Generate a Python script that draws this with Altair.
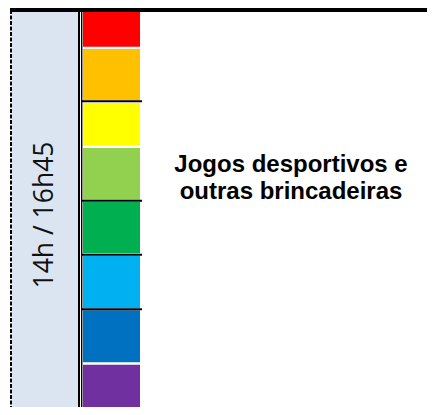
import altair as alt
import pandas as pd

# --- data -------------------------------------------------------------
strip_colors = ["#FF0000", "#FFC000", "#FFFF00", "#92D050",
                "#00B050", "#00B0F0", "#0070C0", "#7030A0"]
strip_top = [4, 41, 95, 140, 194, 248, 302.3, 356.7]
strip_bottom = [38.7, 92, 137.7, 191.7, 245.3, 300, 354.3, 399]
black_sep = [93.3, 192.8, 246.7, 301.2]

time_label = ["14h / 16h45"]
activity_lines = ["Jogos desportivos e", "outras brincadeiras"]

W, H = 419, 399
xs = alt.Scale(domain=[0, W], nice=False, zero=False)
ys = alt.Scale(domain=[0, H], nice=False, zero=False, reverse=True)

def X(f, **kw):
    return alt.X(f, type="quantitative", scale=xs, axis=None, **kw)

def Y(f, **kw):
    return alt.Y(f, type="quantitative", scale=ys, axis=None, **kw)

# left light-blue panel
panel = alt.Chart(pd.DataFrame({"x": [4], "x2": [70], "y": [4], "y2": [H]})).mark_rect(
    color="#DBE5F1").encode(x=X("x"), x2="x2", y=Y("y"), y2="y2")

# colour strips
strips_df = pd.DataFrame({"c": strip_colors, "y": strip_top, "y2": strip_bottom,
                          "x": [75] * len(strip_colors), "x2": [132] * len(strip_colors)})
strips = alt.Chart(strips_df).mark_rect().encode(
    x=X("x"), x2="x2", y=Y("y"), y2="y2",
    color=alt.Color("c:N", scale=None))

# black separators between some strips
sep_df = pd.DataFrame({"y": black_sep, "x": [74] * len(black_sep), "x2": [134] * len(black_sep)})
seps = alt.Chart(sep_df).mark_rule(color="black", strokeWidth=2).encode(
    x=X("x"), x2="x2", y=Y("y"))

# double vertical line
vlines_df = pd.DataFrame({"x": [71, 73.7], "w": [2, 1.4], "y": [2, 2], "y2": [H, H]})
vlines = alt.Chart(vlines_df).mark_rule(color="black").encode(
    x=X("x"), y=Y("y"), y2="y2",
    strokeWidth=alt.StrokeWidth("w:Q", scale=None))

# dashed left border
dashed = alt.Chart(pd.DataFrame({"x": [3], "y": [2], "y2": [H]})).mark_rule(
    color="black", strokeWidth=2, strokeDash=[4, 1.5]).encode(
    x=X("x"), y=Y("y"), y2="y2")

# thick top border
top = alt.Chart(pd.DataFrame({"x": [2], "x2": [W], "y": [2]})).mark_rule(
    color="black", strokeWidth=4).encode(x=X("x"), x2="x2", y=Y("y"))

# rotated time label
time_txt = alt.Chart(pd.DataFrame({"t": time_label, "x": [37], "y": [207]})).mark_text(
    font="Open Sans", fontSize=26.5, angle=270, align="center", baseline="middle",
    color="#111111").encode(x=X("x"), y=Y("y"), text="t:N")

# activity text
act_df = pd.DataFrame({"t": activity_lines, "x": [283, 283], "y": [157, 184]})
act_txt = alt.Chart(act_df).mark_text(
    font="Liberation Sans", fontSize=24, fontWeight="bold", align="center",
    baseline="middle", color="black").encode(x=X("x"), y=Y("y"), text="t:N")

chart = alt.layer(panel, strips, seps, vlines, dashed, top, time_txt, act_txt).properties(
    width=W, height=H, autosize=alt.AutoSizeParams(type="none"), padding=0,
    background="white"
).configure_view(stroke=None)

chart.save("out.html", embed_options={"renderer": "svg", "actions": False})
